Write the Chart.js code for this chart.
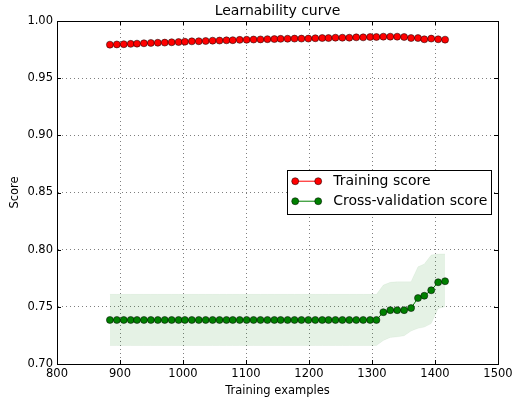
<!DOCTYPE html>
<html><head><meta charset="utf-8">
<script src="https://cdn.jsdelivr.net/npm/chart.js@4/dist/chart.umd.min.js"></script>
<style>html,body{margin:0;padding:0;background:#fff}#wrap{width:512px;height:401px}</style>
</head><body><div id="wrap"><canvas id="c" width="512" height="401"></canvas></div>
<script>
// ---- data ----
const trainSizes = [884, 895, 906, 917, 927, 938, 949, 960, 971, 982,
  993, 1003, 1014, 1025, 1036, 1047, 1058, 1069, 1079, 1090,
  1101, 1112, 1123, 1134, 1145, 1155, 1166, 1177, 1188, 1199,
  1210, 1221, 1231, 1242, 1253, 1264, 1275, 1286, 1297, 1307,
  1318, 1329, 1340, 1351, 1362, 1373, 1383, 1394, 1405, 1416];

const trainScores = [0.9793, 0.9795, 0.9797, 0.9800, 0.9802, 0.9805, 0.9808, 0.9810, 0.9811, 0.9814,
  0.9816, 0.9819, 0.9822, 0.9823, 0.9825, 0.9828, 0.9829, 0.9831, 0.9832, 0.9835,
  0.9836, 0.9838, 0.9839, 0.9841, 0.9842, 0.9844, 0.9845, 0.9846, 0.9846, 0.9846,
  0.9849, 0.9851, 0.9851, 0.9854, 0.9854, 0.9854, 0.9857, 0.9857, 0.9860, 0.9860,
  0.9863, 0.9863, 0.9863, 0.9860, 0.9851, 0.9851, 0.9840, 0.9846, 0.9840, 0.9837];

const cvScores = [0.7385, 0.7385, 0.7385, 0.7385, 0.7385, 0.7385, 0.7385, 0.7385, 0.7385, 0.7385,
  0.7385, 0.7385, 0.7385, 0.7385, 0.7385, 0.7385, 0.7385, 0.7385, 0.7385, 0.7385,
  0.7385, 0.7385, 0.7385, 0.7385, 0.7385, 0.7385, 0.7385, 0.7385, 0.7385, 0.7385,
  0.7385, 0.7385, 0.7385, 0.7385, 0.7385, 0.7385, 0.7385, 0.7385, 0.7385, 0.7385,
  0.7453, 0.7471, 0.7471, 0.7471, 0.7489, 0.7577, 0.7597, 0.7645, 0.7715, 0.7724];

const cvUpper = [0.7609, 0.7609, 0.7609, 0.7609, 0.7609, 0.7609, 0.7609, 0.7609, 0.7609, 0.7609,
  0.7609, 0.7609, 0.7609, 0.7609, 0.7609, 0.7609, 0.7609, 0.7609, 0.7609, 0.7609,
  0.7609, 0.7609, 0.7609, 0.7609, 0.7609, 0.7609, 0.7609, 0.7609, 0.7609, 0.7609,
  0.7609, 0.7609, 0.7609, 0.7609, 0.7609, 0.7609, 0.7609, 0.7609, 0.7609, 0.7609,
  0.7690, 0.7714, 0.7719, 0.7719, 0.7719, 0.7850, 0.7874, 0.7953, 0.7962, 0.7962];

const cvLower = [0.7162, 0.7162, 0.7162, 0.7162, 0.7162, 0.7162, 0.7162, 0.7162, 0.7162, 0.7162,
  0.7162, 0.7162, 0.7162, 0.7162, 0.7162, 0.7162, 0.7162, 0.7162, 0.7162, 0.7162,
  0.7162, 0.7162, 0.7162, 0.7162, 0.7162, 0.7162, 0.7162, 0.7162, 0.7162, 0.7162,
  0.7162, 0.7162, 0.7162, 0.7162, 0.7162, 0.7162, 0.7162, 0.7162, 0.7162, 0.7162,
  0.7206, 0.7232, 0.7238, 0.7247, 0.7289, 0.7312, 0.7323, 0.7354, 0.7486, 0.7500];

const xTicks = [800, 900, 1000, 1100, 1200, 1300, 1400, 1500];
const yTicks = [0.70, 0.75, 0.80, 0.85, 0.90, 0.95, 1.00];
const seriesNames = ['Training score', 'Cross-validation score'];
const chartTitle = 'Learnability curve';
const xTitle = 'Training examples';
const yTitle = 'Score';

// ---- chart ----
const FONT = 'DejaVu Sans';
const pts = arr => trainSizes.map((x, i) => ({x: x, y: arr[i]}));

const frameTitleLegend = {
  id: 'frameTitleLegend',
  afterDraw(chart) {
    const c = chart.ctx, a = chart.chartArea;
    const xs = chart.scales.x, ys = chart.scales.y;
    c.save();
    // inward ticks on all four sides
    c.strokeStyle = '#000'; c.lineWidth = 1;
    c.beginPath();
    xTicks.forEach(v => {
      const px = Math.round(xs.getPixelForValue(v)) + 0.5;
      c.moveTo(px, a.bottom); c.lineTo(px, a.bottom - 4);
      c.moveTo(px, a.top); c.lineTo(px, a.top + 4);
    });
    yTicks.forEach(v => {
      const py = Math.round(ys.getPixelForValue(v)) + 0.5;
      c.moveTo(a.left, py); c.lineTo(a.left + 4, py);
      c.moveTo(a.right, py); c.lineTo(a.right - 4, py);
    });
    c.stroke();
    // frame
    c.strokeRect(Math.round(a.left) + 0.5, Math.round(a.top) + 0.5,
                 Math.round(a.right - a.left), Math.round(a.bottom - a.top));
    // title
    c.fillStyle = '#000';
    c.font = '14px "' + FONT + '"';
    c.textAlign = 'center'; c.textBaseline = 'middle';
    c.fillText(chartTitle, (a.left + a.right) / 2, 11);
    // legend
    const lx = a.left + (a.right - a.left) * 0.522;
    const ly = a.top + (a.bottom - a.top) * 0.435;
    const lw = 204, lh = 44;
    c.fillStyle = '#fff';
    c.fillRect(Math.round(lx) + 0.5, Math.round(ly) + 0.5, lw, lh);
    c.strokeStyle = '#000';
    c.strokeRect(Math.round(lx) + 0.5, Math.round(ly) + 0.5, lw, lh);
    const colors = ['#ff0000', '#008000'];
    seriesNames.forEach((name, i) => {
      const y = ly + 11 + i * 20;
      const x0 = lx + 8, x1 = lx + 31;
      c.strokeStyle = colors[i]; c.lineWidth = 1;
      c.beginPath(); c.moveTo(x0, y); c.lineTo(x1, y); c.stroke();
      [x0, x1].forEach(px => {
        c.beginPath(); c.arc(px, y, 3.5, 0, Math.PI * 2);
        c.fillStyle = colors[i]; c.fill();
        c.strokeStyle = '#000'; c.lineWidth = 0.5; c.stroke();
      });
      c.fillStyle = '#000';
      c.font = '14px "' + FONT + '"';
      c.textAlign = 'left'; c.textBaseline = 'middle';
      c.fillText(name, lx + 46, y + 0.5);
    });
    c.restore();
  }
};

new Chart(document.getElementById('c'), {
  type: 'line',
  data: {
    datasets: [
      {label: 'cv upper', data: pts(cvUpper), borderColor: 'rgba(0,128,0,0.1)', borderWidth: 0.5,
       pointRadius: 0, fill: '+1', backgroundColor: 'rgba(0,128,0,0.1)', order: 5},
      {label: 'cv lower', data: pts(cvLower), borderColor: 'rgba(0,128,0,0.1)', borderWidth: 0.5,
       pointRadius: 0, fill: false, order: 5},
      {label: seriesNames[0], data: pts(trainScores), borderColor: '#ff0000', borderWidth: 1,
       pointBackgroundColor: '#ff0000', pointBorderColor: '#000', pointBorderWidth: 0.5,
       pointRadius: 3.5, fill: false, order: 1},
      {label: seriesNames[1], data: pts(cvScores), borderColor: '#008000', borderWidth: 1,
       pointBackgroundColor: '#008000', pointBorderColor: '#000', pointBorderWidth: 0.5,
       pointRadius: 3.5, fill: false, order: 1}
    ]
  },
  options: {
    responsive: false,
    animation: false,
    devicePixelRatio: 1,
    layout: {padding: {top: 21, right: 14, bottom: 0, left: 0}},
    elements: {line: {tension: 0}},
    plugins: {legend: {display: false}, tooltip: {enabled: false}, title: {display: false}},
    scales: {
      x: {
        type: 'linear', min: 800, max: 1500,
        afterBuildTicks: s => { s.ticks = xTicks.map(v => ({value: v})); },
        afterFit: s => { s.height = 37; s.paddingRight = 0; s.paddingLeft = 0; },
        ticks: {color: '#000', font: {family: FONT, size: 11.5}, padding: 3, maxRotation: 0,
                callback: v => String(v)},
        grid: {color: 'rgba(0,0,0,0.5)', lineWidth: 1, drawTicks: false},
        border: {display: true, color: '#000', dash: [1, 3]},
        title: {display: true, text: xTitle, color: '#000', font: {family: FONT, size: 11.5},
                padding: {top: 0, bottom: 3.5}}
      },
      y: {
        min: 0.70, max: 1.00,
        afterBuildTicks: s => { s.ticks = yTicks.map(v => ({value: v})); },
        afterFit: s => { s.width = 57; s.paddingTop = 0; s.paddingBottom = 0; },
        ticks: {color: '#000', font: {family: FONT, size: 11.5}, padding: 4,
                callback: v => Number(v).toFixed(2)},
        grid: {color: 'rgba(0,0,0,0.5)', lineWidth: 1, drawTicks: false},
        border: {display: true, color: '#000', dash: [1, 3]},
        title: {display: true, text: yTitle, color: '#000', font: {family: FONT, size: 11.5},
                padding: {top: 8, bottom: 0}}
      }
    }
  },
  plugins: [frameTitleLegend]
});
</script>
</body></html>
